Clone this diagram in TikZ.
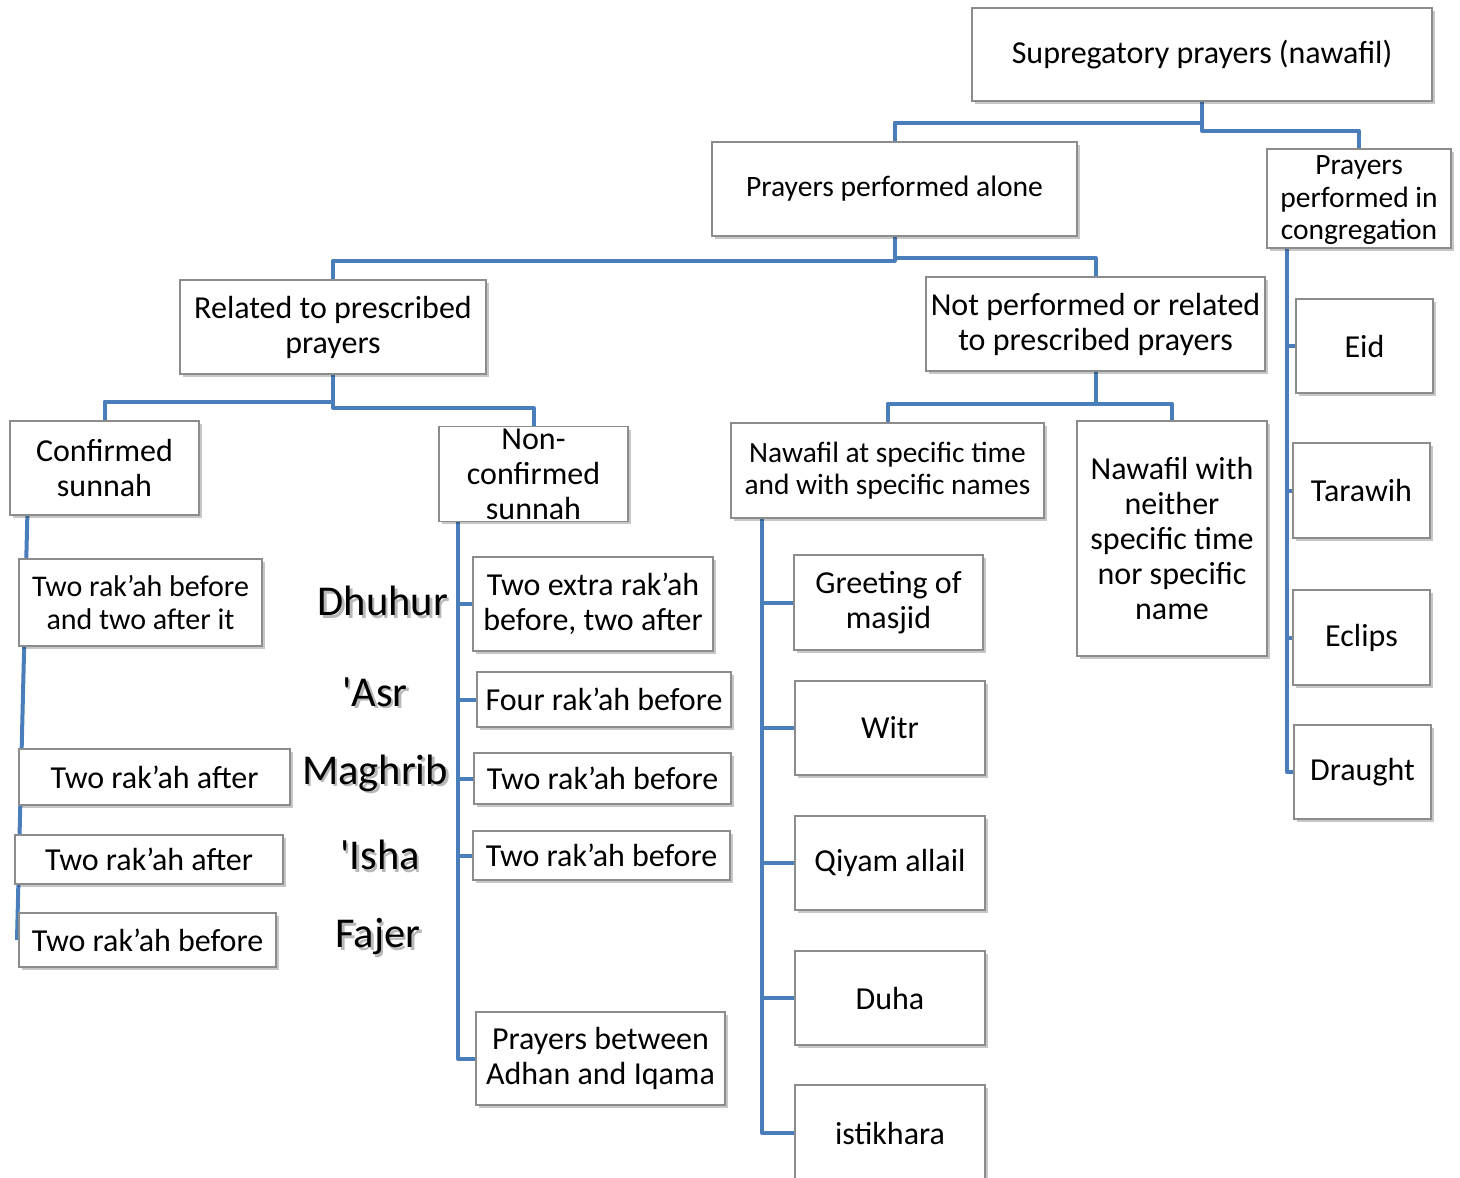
\documentclass[tikz,border=0pt]{standalone}
\usepackage{fontspec}
\setmainfont{Carlito}
\usepackage{tikz}
\usetikzlibrary{positioning,shadows,backgrounds}
\definecolor{linkblue}{HTML}{4A7EBB}
\definecolor{boxgray}{HTML}{8C8C8C}
\newcommand{\shtext}[1]{\makebox[0pt][l]{\raisebox{-2.5pt}[0pt][0pt]{\hspace{2.5pt}\textcolor{black!28}{#1}}}#1}

\tikzset{
  box/.style={draw=boxgray, line width=1.3pt, fill=white, align=center, inner sep=2pt,
    font=\fontsize{32}{35}\selectfont,
    drop shadow={shadow xshift=3pt, shadow yshift=-3pt, opacity=0.22, fill=black}},
  smallbox/.style={box, font=\fontsize{29.4}{32}\selectfont},
  link/.style={draw=linkblue, line width=4pt, line join=round},
  prayer/.style={font=\fontsize{42.5}{45}\selectfont, inner sep=0pt}
}

\begin{document}
\begin{tikzpicture}[x=1pt,y=-1pt]
\useasboundingbox (0,0) rectangle (1460,1178);

% upper levels
\node[box, minimum width=460pt, minimum height=93pt] (root) at (1202,54.5) {Supregatory prayers (nawafil)};
\node[smallbox, font=\fontsize{29.6}{32}\selectfont, minimum width=365pt, minimum height=94pt] (alone) at (894.5,189) {Prayers performed alone};
\node[smallbox, font=\fontsize{29.5}{32.5}\selectfont, minimum width=184pt, minimum height=99pt, text depth=1pt] (cong) at (1359,198.5) {Prayers\\performed in\\congregation};
\node[box, minimum width=306pt, minimum height=94pt] (related) at (333,327) {Related to prescribed\\prayers};
\node[box, minimum width=339pt, minimum height=94pt] (notperf) at (1095.5,324) {Not performed or related\\to prescribed prayers};
\node[box, minimum width=189pt, minimum height=94pt] (confirmed) at (104.5,468) {Confirmed\\sunnah};
\node[box, minimum width=189pt, minimum height=94pt] (nonconf) at (533.5,474) {Non-\\confirmed\\sunnah};
\node[smallbox, minimum width=313pt, minimum height=95pt] (specific) at (887.5,470.5) {Nawafil at specific time\\and with specific names};
\node[box, minimum width=190pt, minimum height=235pt] (neither) at (1172,538.5) {Nawafil with\\neither\\specific time\\nor specific\\name};

% congregation
\node[box, minimum width=137pt, minimum height=94pt] (eid) at (1364.5,346) {Eid};
\node[box, minimum width=137pt, minimum height=95pt] (tarawih) at (1361.5,490.5) {Tarawih};
\node[box, minimum width=137pt, minimum height=95pt] (eclips) at (1361.5,637.5) {Eclips};
\node[box, minimum width=137pt, minimum height=94pt] (draught) at (1362.5,772) {Draught};

% confirmed sunnah
\node[box, font=\fontsize{30}{32.5}\selectfont, minimum width=243pt, minimum height=87pt] (c1) at (140.5,602.5) {Two rak’ah before\\and two after it};
\node[box, minimum width=271pt, minimum height=56pt] (c2) at (154.5,777) {Two rak’ah after};
\node[box, minimum width=268pt, minimum height=49pt] (c3) at (149,859.5) {Two rak’ah after};
\node[box, minimum width=257pt, minimum height=54pt] (c4) at (147.5,940) {Two rak’ah before};

% prayer names
\node[prayer] (dhuhur) at (383,601) {\shtext{Dhuhur}};
\node[prayer] (asr) at (375,692) {\shtext{\textquotesingle Asr}};
\node[prayer] (maghrib) at (375,773) {\shtext{Maghrib}};
\node[prayer] (isha) at (380,855) {\shtext{\textquotesingle Isha}};
\node[prayer] (fajer) at (378,937) {\shtext{Fajer}};

% non-confirmed sunnah
\node[box, minimum width=240pt, minimum height=94pt] (n1) at (593,604) {Two extra rak’ah\\before, two after};
\node[box, minimum width=254pt, minimum height=55pt] (n2) at (604,699.5) {Four rak’ah before};
\node[box, minimum width=257pt, minimum height=51pt] (n3) at (602.5,778.5) {Two rak’ah before};
\node[box, minimum width=257pt, minimum height=49pt] (n4) at (601.5,855.5) {Two rak’ah before};
\node[box, minimum width=249pt, minimum height=93pt] (n5) at (600.5,1058.5) {Prayers between\\Adhan and Iqama};

% specific nawafil
\node[box, minimum width=189pt, minimum height=95pt] (greeting) at (888.5,602.5) {Greeting of\\masjid};
\node[box, minimum width=190pt, minimum height=94pt] (witr) at (890,728) {Witr};
\node[box, minimum width=190pt, minimum height=94pt] (qiyam) at (890,863) {Qiyam allail};
\node[box, minimum width=190pt, minimum height=94pt] (duha) at (890,998) {Duha};
\node[box, minimum width=190pt, minimum height=96pt] (istikhara) at (890,1133) {istikhara};

\coordinate (cspine) at (1287,0);
\coordinate (nspine) at (458,0);
\coordinate (sspine) at (762,0);
\coordinate (cend) at (17,940);

\begin{pgfonlayer}{background}
\draw[link] (root.south) -- ++(0,21) -| (alone.north);
\draw[link] (root.south) -- ++(0,29) -| (cong.north);
\draw[link] (alone.south) -- ++(0,24) -| (related.north);
\draw[link] (alone.south) -- ++(0,21) -| (notperf.north);
\draw[link] (related.south) -- ++(0,27) -| (confirmed.north);
\draw[link] (related.south) -- ++(0,33) -| (nonconf.north);
\draw[link] (notperf.south) -- ++(0,32) -| (specific.north);
\draw[link] (notperf.south) -- ++(0,32) -| (neither.north);

\draw[link] (cong.south -| cspine) |- (draught.west);
\foreach \n in {eid,tarawih,eclips}
  \draw[link] (\n.west -| cspine) -- (\n.west);

\draw[link] ([xshift=18pt]confirmed.south west) -- (cend);

\draw[link] (nonconf.south -| nspine) |- (n5.west);
\foreach \n in {n1,n2,n3,n4}
  \draw[link] (\n.west -| nspine) -- (\n.west);

\draw[link] (specific.south -| sspine) |- (istikhara.west);
\foreach \n in {greeting,witr,qiyam,duha}
  \draw[link] (\n.west -| sspine) -- (\n.west);
\end{pgfonlayer}
\end{tikzpicture}
\end{document}
